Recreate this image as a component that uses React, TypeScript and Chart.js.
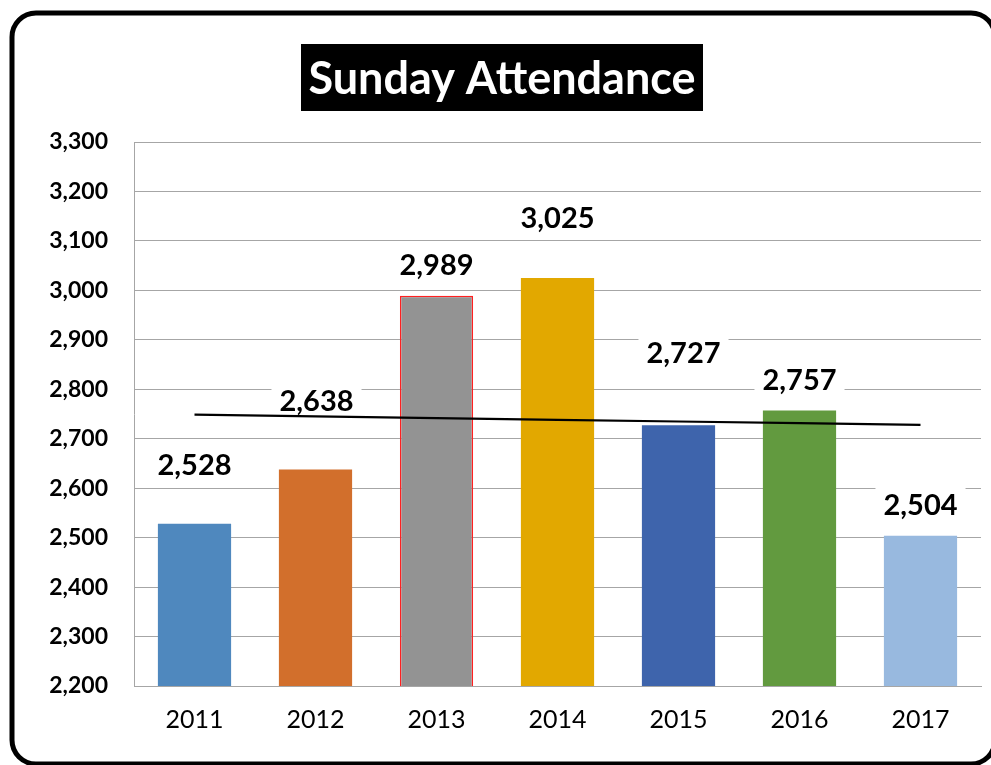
import React, { useEffect, useRef } from "react";
import { Chart, registerables } from "chart.js";

Chart.register(...registerables);

const years = ["2011", "2012", "2013", "2014", "2015", "2016", "2017"];
const attendance = [2528, 2638, 2989, 3025, 2727, 2757, 2504];
const barColors = ["#4F88BE", "#D26F2C", "#939393", "#E2A800", "#3E64AC", "#629A3F", "#98B9DF"];
const barBorderColors = ["#4F88BE", "#D26F2C", "#FF2020", "#E2A800", "#3E64AC", "#629A3F", "#98B9DF"];
const barBorderWidths = [0, 0, 1.5, 0, 0, 0, 0];
// label placement (pixels above bar top, horizontal shift)
const labelLift = [59, 69, 31, 60, 73, 31, 31];
const labelShift = [0, 1, 0, 0, 5, 0, 0];
const yMin = 2200;
const yMax = 3300;
const yStep = 100;
const chartTitle = "Sunday Attendance";

function linearTrend(values: number[]): number[] {
  const n = values.length;
  const mx = (n - 1) / 2;
  const my = values.reduce((a, b) => a + b, 0) / n;
  let num = 0;
  let den = 0;
  values.forEach((v, i) => {
    num += (i - mx) * (v - my);
    den += (i - mx) * (i - mx);
  });
  const slope = num / den;
  return values.map((_, i) => my + slope * (i - mx));
}

const fmt = (v: number) => v.toLocaleString("en-US");

const framePlugin = {
  id: "frame",
  beforeDraw(chart: any) {
    const ctx = chart.ctx;
    ctx.save();
    ctx.fillStyle = "#ffffff";
    ctx.fillRect(0, 0, chart.width, chart.height);
    ctx.beginPath();
    ctx.lineWidth = 5;
    ctx.strokeStyle = "#000000";
    ctx.roundRect(12, 13, 983, 751, 24);
    ctx.stroke();
    // title
    ctx.fillStyle = "#000000";
    ctx.fillRect(301, 44, 402, 67);
    ctx.fillStyle = "#ffffff";
    ctx.font = "bold 45px Lato";
    ctx.textAlign = "center";
    ctx.textBaseline = "middle";
    ctx.fillText(chartTitle, 502, 79);
    ctx.restore();
  },
};

const labelPlugin = {
  id: "barLabels",
  afterDatasetDraw(chart: any, args: any) {
    if (args.index !== 0) return;
    const ctx = chart.ctx;
    const meta = chart.getDatasetMeta(0);
    ctx.save();
    ctx.font = "bold 29px Lato";
    ctx.textAlign = "center";
    ctx.textBaseline = "middle";
    meta.data.forEach((el: any, i: number) => {
      const text = fmt(attendance[i]);
      const cx = el.x + labelShift[i];
      const cy = el.y - labelLift[i];
      const w = ctx.measureText(text).width + 16;
      ctx.fillStyle = "#ffffff";
      ctx.fillRect(cx - w / 2, cy - 21, w, 40);
      ctx.fillStyle = "#000000";
      ctx.fillText(text, cx, cy + 1);
    });
    ctx.restore();
  },
};

export default function App() {
  const ref = useRef<HTMLCanvasElement | null>(null);

  useEffect(() => {
    if (!ref.current) return;
    const chart = new Chart(ref.current, {
      type: "bar",
      data: {
        labels: years,
        datasets: [
          {
            type: "bar",
            label: "Attendance",
            data: attendance,
            backgroundColor: barColors,
            borderColor: barBorderColors,
            borderWidth: barBorderWidths,
            barPercentage: 0.605,
            categoryPercentage: 1,
            order: 1,
          },
          {
            type: "line",
            label: "Trend",
            data: linearTrend(attendance),
            borderColor: "#000000",
            borderWidth: 2.2,
            pointRadius: 0,
            fill: false,
            order: 0,
          } as any,
        ],
      },
      options: {
        animation: false,
        responsive: false,
        maintainAspectRatio: false,
        layout: { padding: { left: 0, right: 10, top: 142, bottom: 0 } },
        plugins: {
          legend: { display: false },
          title: { display: false },
          tooltip: { enabled: false },
        },
        scales: {
          x: {
            grid: { display: false, drawTicks: false },
            border: { display: true, color: "#A6A6A6", width: 1 },
            ticks: {
              color: "#000000",
              font: { family: "Lato", size: 25 },
              padding: 19,
            },
            afterFit(scale: any) {
              scale.height = 79;
            },
          },
          y: {
            min: yMin,
            max: yMax,
            grid: { color: "#A6A6A6", lineWidth: 1, drawTicks: false },
            border: { display: true, color: "#A6A6A6", width: 1 },
            ticks: {
              stepSize: yStep,
              color: "#000000",
              font: { family: "Lato", size: 23, weight: "bold" },
              padding: 26,
              callback: (v: any) => fmt(Number(v)),
            },
            afterFit(scale: any) {
              scale.width = 134;
            },
          },
        },
      },
      plugins: [framePlugin, labelPlugin],
    });
    return () => chart.destroy();
  }, []);

  return (
    <div style={{ position: "fixed", left: 0, top: 0, width: 991, height: 765 }}>
      <canvas ref={ref} width={991} height={765} style={{ display: "block" }} />
    </div>
  );
}
